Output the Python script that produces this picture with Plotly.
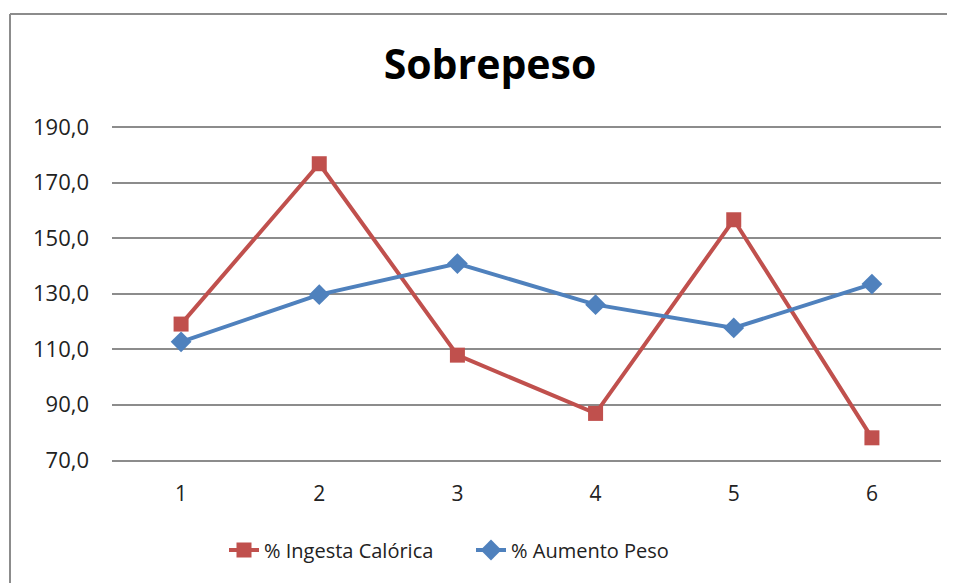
import plotly.graph_objects as go

# values
categories = ["1", "2", "3", "4", "5", "6"]
ingesta_calorica = [119.0, 176.8, 107.8, 86.8, 156.6, 78.0]
aumento_peso = [112.6, 129.6, 140.8, 126.0, 117.6, 133.4]
y_ticks = [70, 90, 110, 130, 150, 170, 190]

RED = "#C0504D"
BLUE = "#4F81BD"
GRID = "#8C8C8C"
FONT = "Open Sans, Noto Sans, sans-serif"

# the page puts the figure 8px in from the corner, so shift everything back
OFF = 8
L, T, PW, PH = 112 - OFF, 126 - OFF, 829, 334

fig = go.Figure()
fig.add_trace(go.Scatter(
    x=categories, y=ingesta_calorica, name="% Ingesta Calórica",
    mode="lines+markers",
    line=dict(color=RED, width=4),
    marker=dict(symbol="square", size=15, color=RED),
))
fig.add_trace(go.Scatter(
    x=categories, y=aumento_peso, name="% Aumento Peso",
    mode="lines+markers",
    line=dict(color=BLUE, width=4),
    marker=dict(symbol="diamond", size=16, color=BLUE),
))

fig.update_layout(
    width=955, height=583,
    margin=dict(l=L, r=955 - L - PW, t=T, b=583 - T - PH),
    paper_bgcolor="white", plot_bgcolor="white",
    separators=",.",
    font=dict(family=FONT, size=20, color="#222222"),
    title=dict(text="<b>Sobrepeso</b>", x=(490 - OFF) / 955, xanchor="center",
               y=1 - (65 - OFF) / 583, yanchor="middle",
               font=dict(family=FONT, size=41, color="black")),
    showlegend=True,
    legend=dict(orientation="h", x=(224 - OFF - L) / PW, xanchor="left",
                y=-(549 - 459) / PH, yanchor="middle",
                font=dict(family=FONT, size=20, color="#222222"),
                entrywidth=202, entrywidthmode="pixels", tracegroupgap=0),
    hovermode=False,
)

fig.update_xaxes(
    type="category", range=[-0.5, 5.5],
    showgrid=False, zeroline=False,
    showline=True, linecolor=GRID, linewidth=2,
    ticks="", ticklabelstandoff=14,
    tickfont=dict(family=FONT, size=21, color="#222222"),
)
fig.update_yaxes(
    range=[70, 190.4], tickvals=y_ticks, tickformat=".1f",
    showgrid=True, gridcolor=GRID, gridwidth=2,
    zeroline=False, showline=False, ticks="",
    ticklabelstandoff=22,
    tickfont=dict(family=FONT, size=22, color="#222222"),
)

# chart-area border (left and top edges visible in the reference)
x_left = (10 - 112) / PW
y_top = 1 + (126 - 14) / PH
fig.add_shape(type="line", xref="paper", yref="paper",
              x0=x_left, x1=x_left, y0=y_top, y1=-2,
              line=dict(color=GRID, width=2))
fig.add_shape(type="line", xref="paper", yref="paper",
              x0=x_left, x1=2, y0=y_top, y1=y_top,
              line=dict(color=GRID, width=2))

fig.write_html("out.html")
